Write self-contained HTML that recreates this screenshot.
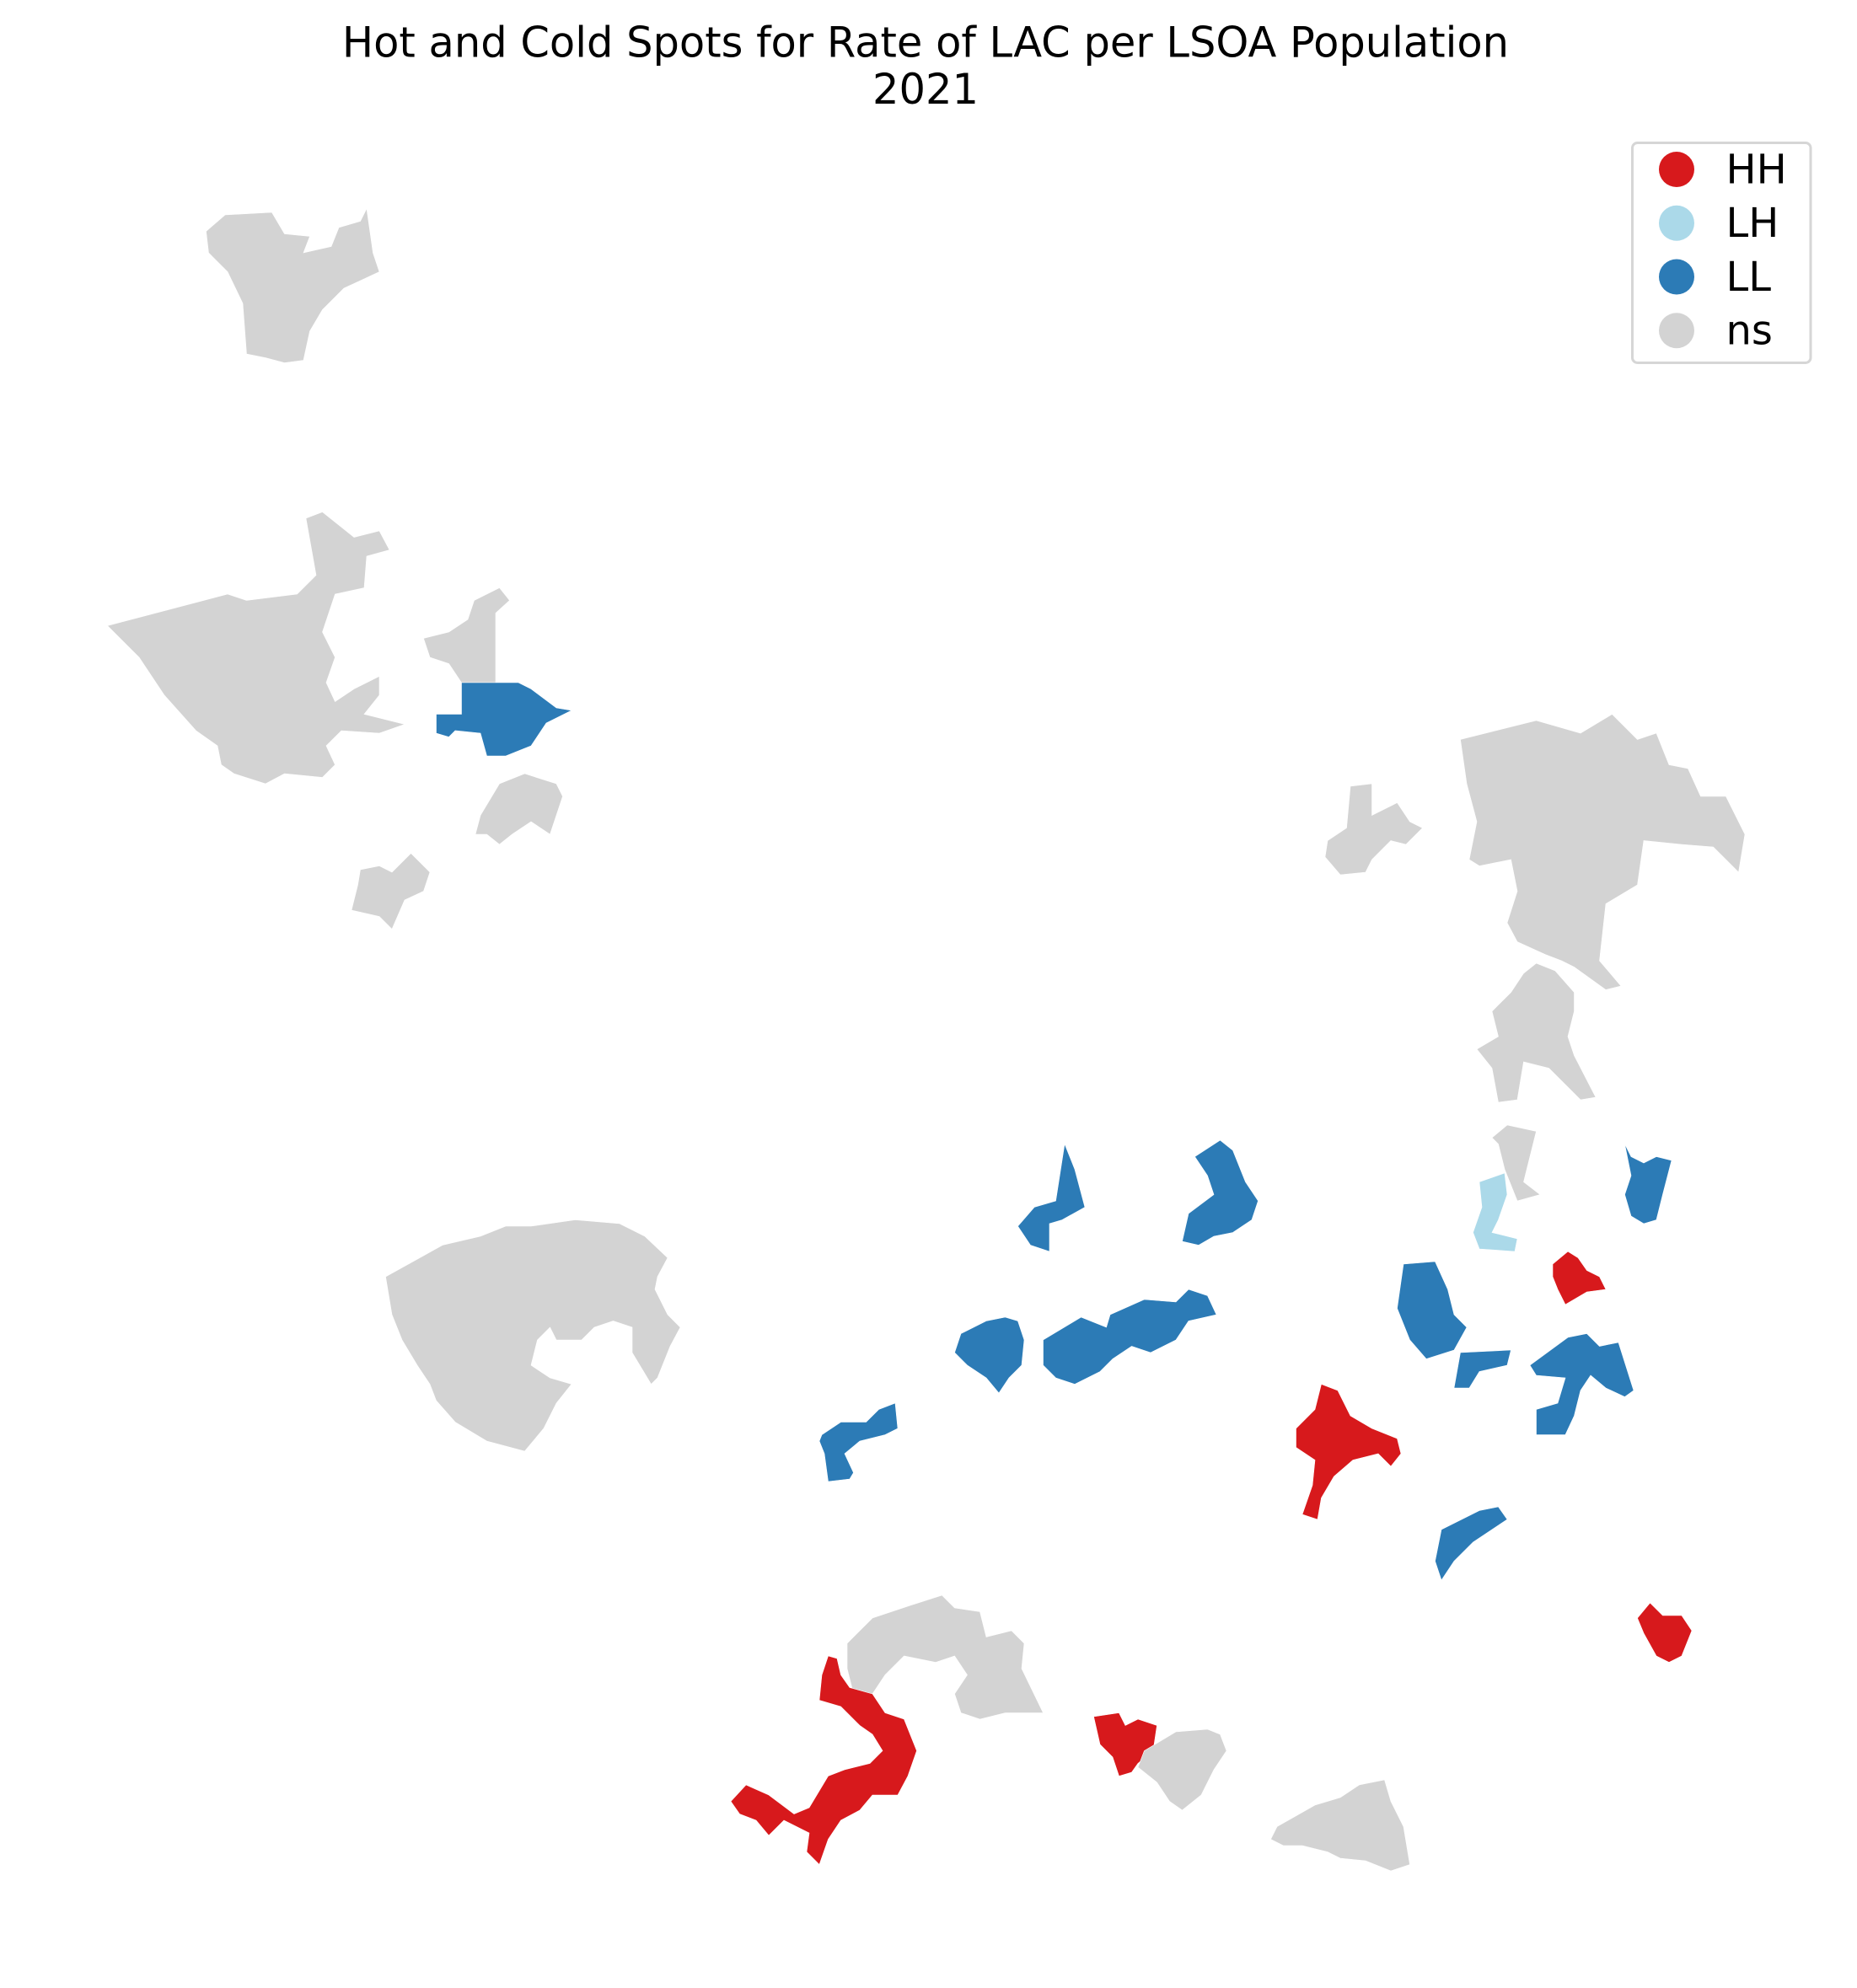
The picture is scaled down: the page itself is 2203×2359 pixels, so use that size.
<!DOCTYPE html>
<html><head><meta charset="utf-8">
<style>
html,body{margin:0;padding:0;background:#fff;}
svg{display:block;}
text{font-family:"DejaVu Sans","Liberation Sans",sans-serif;}
</style></head>
<body>
<svg id="map" width="2203" height="2359" viewBox="0 0 1468.67 1572.67" xmlns="http://www.w3.org/2000/svg">
<text x="732" y="45" font-size="33" text-anchor="middle" fill="#000">Hot and Cold Spots for Rate of LAC per LSOA Population</text>
<text x="732" y="82" font-size="33" text-anchor="middle" fill="#000">2021</text>
<g id="regions"></g>
<g id="legend">
<rect x="1291" y="113" width="141" height="174" rx="4" fill="#fff" stroke="#d6d6d6" stroke-width="2"/>
</g>
</svg>
<script>
const categoryNames = ["HH","LH","LL","ns"];
const categoryColors = ["#d7191c","#abd9e9","#2c7bb6","#d3d3d3"];
const category = ["ns","ns","ns","LL","ns","ns","ns","ns","ns","ns","LH","LL","HH","LL","LL","LL","LL","HH","HH","LL","LL","LL","LL","LL","ns","ns","HH","HH","ns","ns"];
const shapes = [
[[163,183],[178,170],[215,168],[225,185],[245,187],[240,200],[262,195],[268,180],[285,175],[290,165],[295,200],[300,215],[285,222],[272,228],[255,245],[245,262],[240,285],[225,287],[210,283],[195,280],[192,240],[180,215],[165,200]],
[[85,495],[180,470],[195,475],[235,470],[250,455],[242,410],[255,405],[280,425],[300,420],[308,435],[290,440],[288,465],[265,470],[255,500],[265,520],[258,540],[265,555],[280,545],[300,535],[300,550],[288,565],[320,573],[300,580],[270,578],[258,590],[265,605],[255,615],[225,612],[210,620],[185,612],[175,605],[172,590],[155,578],[130,550],[110,520]],
[[335,505],[355,500],[370,490],[375,475],[395,465],[403,475],[392,485],[392,540],[365,540],[355,525],[340,520]],
[[365,540],[410,540],[420,545],[440,560],[452,562],[432,572],[420,590],[400,598],[385,598],[380,580],[360,578],[355,583],[345,580],[345,565],[365,565]],
[[380,645],[395,620],[415,612],[440,620],[445,630],[435,660],[420,650],[405,660],[395,668],[385,660],[376,660]],
[[285,688],[300,685],[310,690],[325,675],[340,690],[335,705],[320,712],[310,735],[300,725],[278,720],[283,700]],
[[1155,585],[1215,570],[1250,580],[1275,565],[1295,585],[1310,580],[1320,605],[1335,608],[1345,630],[1365,630],[1380,660],[1375,690],[1355,670],[1330,668],[1300,665],[1295,700],[1270,715],[1265,760],[1282,780],[1270,783],[1245,765],[1235,760],[1222,755],[1200,745],[1192,730],[1200,705],[1195,680],[1170,685],[1162,680],[1168,650],[1160,620]],
[[1050,665],[1065,655],[1068,622],[1085,620],[1085,645],[1105,635],[1115,650],[1125,655],[1112,668],[1100,665],[1085,680],[1080,690],[1060,692],[1048,678]],
[[1180,800],[1195,785],[1205,770],[1215,762],[1230,768],[1245,785],[1245,800],[1240,820],[1245,835],[1262,868],[1250,870],[1225,845],[1205,840],[1200,870],[1185,872],[1180,845],[1168,830],[1185,820]],
[[1180,900],[1192,890],[1215,895],[1210,915],[1205,935],[1218,945],[1200,950],[1190,925],[1185,905]],
[[1170,935],[1190,928],[1192,945],[1185,965],[1180,975],[1200,980],[1198,990],[1170,988],[1165,975],[1172,955]],
[[1285,905],[1290,915],[1300,920],[1310,915],[1322,918],[1315,945],[1310,965],[1300,968],[1290,962],[1285,945],[1290,930]],
[[1228,1000],[1240,990],[1248,995],[1255,1005],[1265,1010],[1270,1020],[1255,1022],[1238,1032],[1232,1020],[1228,1010]],
[[1110,1000],[1135,998],[1145,1020],[1150,1040],[1160,1050],[1150,1068],[1128,1075],[1115,1060],[1105,1035]],
[[1155,1070],[1195,1068],[1192,1080],[1170,1085],[1162,1098],[1150,1098]],
[[1210,1080],[1240,1058],[1255,1055],[1265,1065],[1280,1062],[1292,1100],[1285,1105],[1270,1098],[1258,1088],[1250,1100],[1245,1120],[1238,1135],[1215,1135],[1215,1115],[1232,1110],[1238,1090],[1215,1088]],
[[1140,1210],[1160,1200],[1170,1195],[1185,1192],[1192,1202],[1165,1220],[1150,1235],[1140,1250],[1135,1235]],
[[1025,1130],[1040,1115],[1045,1095],[1058,1100],[1068,1120],[1085,1130],[1105,1138],[1108,1150],[1100,1160],[1090,1150],[1070,1155],[1055,1168],[1045,1185],[1042,1202],[1030,1198],[1038,1175],[1040,1155],[1025,1145]],
[[1295,1280],[1305,1268],[1315,1278],[1330,1278],[1338,1290],[1330,1310],[1320,1315],[1310,1310],[1300,1292]],
[[835,950],[842,905],[850,925],[858,955],[840,965],[830,968],[830,990],[815,985],[805,970],[818,955]],
[[945,915],[965,902],[975,910],[985,935],[995,950],[990,965],[975,975],[960,978],[948,985],[935,982],[940,960],[960,945],[955,930]],
[[760,1055],[780,1045],[795,1042],[805,1045],[810,1060],[808,1080],[798,1090],[790,1102],[780,1090],[765,1080],[755,1070]],
[[825,1060],[855,1042],[875,1050],[878,1040],[905,1028],[930,1030],[940,1020],[955,1025],[962,1040],[940,1045],[930,1060],[910,1070],[895,1065],[880,1075],[870,1085],[850,1095],[835,1090],[825,1080]],
[[650,1135],[665,1125],[685,1125],[695,1115],[708,1110],[710,1130],[700,1135],[680,1140],[668,1150],[675,1165],[672,1170],[655,1172],[652,1150],[648,1140]],
[[305,1010],[350,985],[380,978],[400,970],[420,970],[455,965],[490,968],[510,978],[528,995],[520,1010],[518,1020],[528,1040],[538,1050],[530,1065],[520,1090],[515,1095],[500,1070],[500,1050],[485,1045],[470,1050],[460,1060],[440,1060],[435,1050],[425,1060],[420,1080],[435,1090],[452,1095],[440,1110],[430,1130],[415,1148],[385,1140],[360,1125],[345,1108],[340,1095],[330,1080],[318,1060],[310,1040]],
[[670,1300],[690,1280],[720,1270],[745,1262],[755,1272],[775,1275],[780,1295],[800,1290],[810,1300],[808,1320],[825,1355],[795,1355],[775,1360],[760,1355],[755,1340],[765,1325],[755,1310],[740,1315],[715,1310],[700,1325],[690,1340],[675,1340],[670,1320]],
[[655,1310],[662,1312],[665,1325],[672,1335],[690,1340],[700,1355],[715,1360],[725,1385],[718,1405],[710,1420],[690,1420],[680,1432],[665,1440],[655,1455],[648,1475],[638,1465],[640,1450],[630,1445],[620,1440],[608,1452],[598,1440],[585,1435],[578,1425],[590,1412],[608,1420],[628,1435],[640,1430],[655,1405],[668,1400],[688,1395],[698,1385],[690,1372],[680,1365],[665,1350],[648,1345],[650,1325]],
[[865,1358],[885,1355],[890,1365],[900,1360],[915,1365],[912,1385],[900,1395],[895,1402],[885,1405],[880,1390],[870,1380]],
[[905,1385],[930,1370],[955,1368],[965,1372],[970,1385],[960,1400],[950,1420],[935,1432],[925,1425],[915,1410],[900,1398]],
[[1010,1445],[1040,1428],[1060,1422],[1075,1412],[1095,1408],[1100,1425],[1110,1445],[1115,1475],[1100,1480],[1080,1472],[1060,1470],[1050,1465],[1030,1460],[1015,1460],[1005,1455]]
];
const NS="http://www.w3.org/2000/svg";
const g=document.getElementById('regions');
shapes.forEach((pts,i)=>{
  const p=document.createElementNS(NS,'polygon');
  p.setAttribute('points',pts.map(q=>q.join(',')).join(' '));
  p.setAttribute('fill',categoryColors[categoryNames.indexOf(category[i])]);
  p.setAttribute('stroke','#fff');
  p.setAttribute('stroke-width','0.4');
  
  
  g.appendChild(p);
});
const lg=document.getElementById('legend');
categoryNames.forEach((c,i)=>{
  const y=134+i*42.5;
  const m=document.createElementNS(NS,'circle');
  m.setAttribute('cx',1326);m.setAttribute('cy',y);m.setAttribute('r',14);
  m.setAttribute('fill',categoryColors[i]);
  
  
  lg.appendChild(m);
  const t=document.createElementNS(NS,'text');
  t.setAttribute('x',1365);t.setAttribute('y',y+11);
  t.setAttribute('font-size','32');
  t.textContent=c;
  
  
  lg.appendChild(t);
});
</script>
</body></html>
